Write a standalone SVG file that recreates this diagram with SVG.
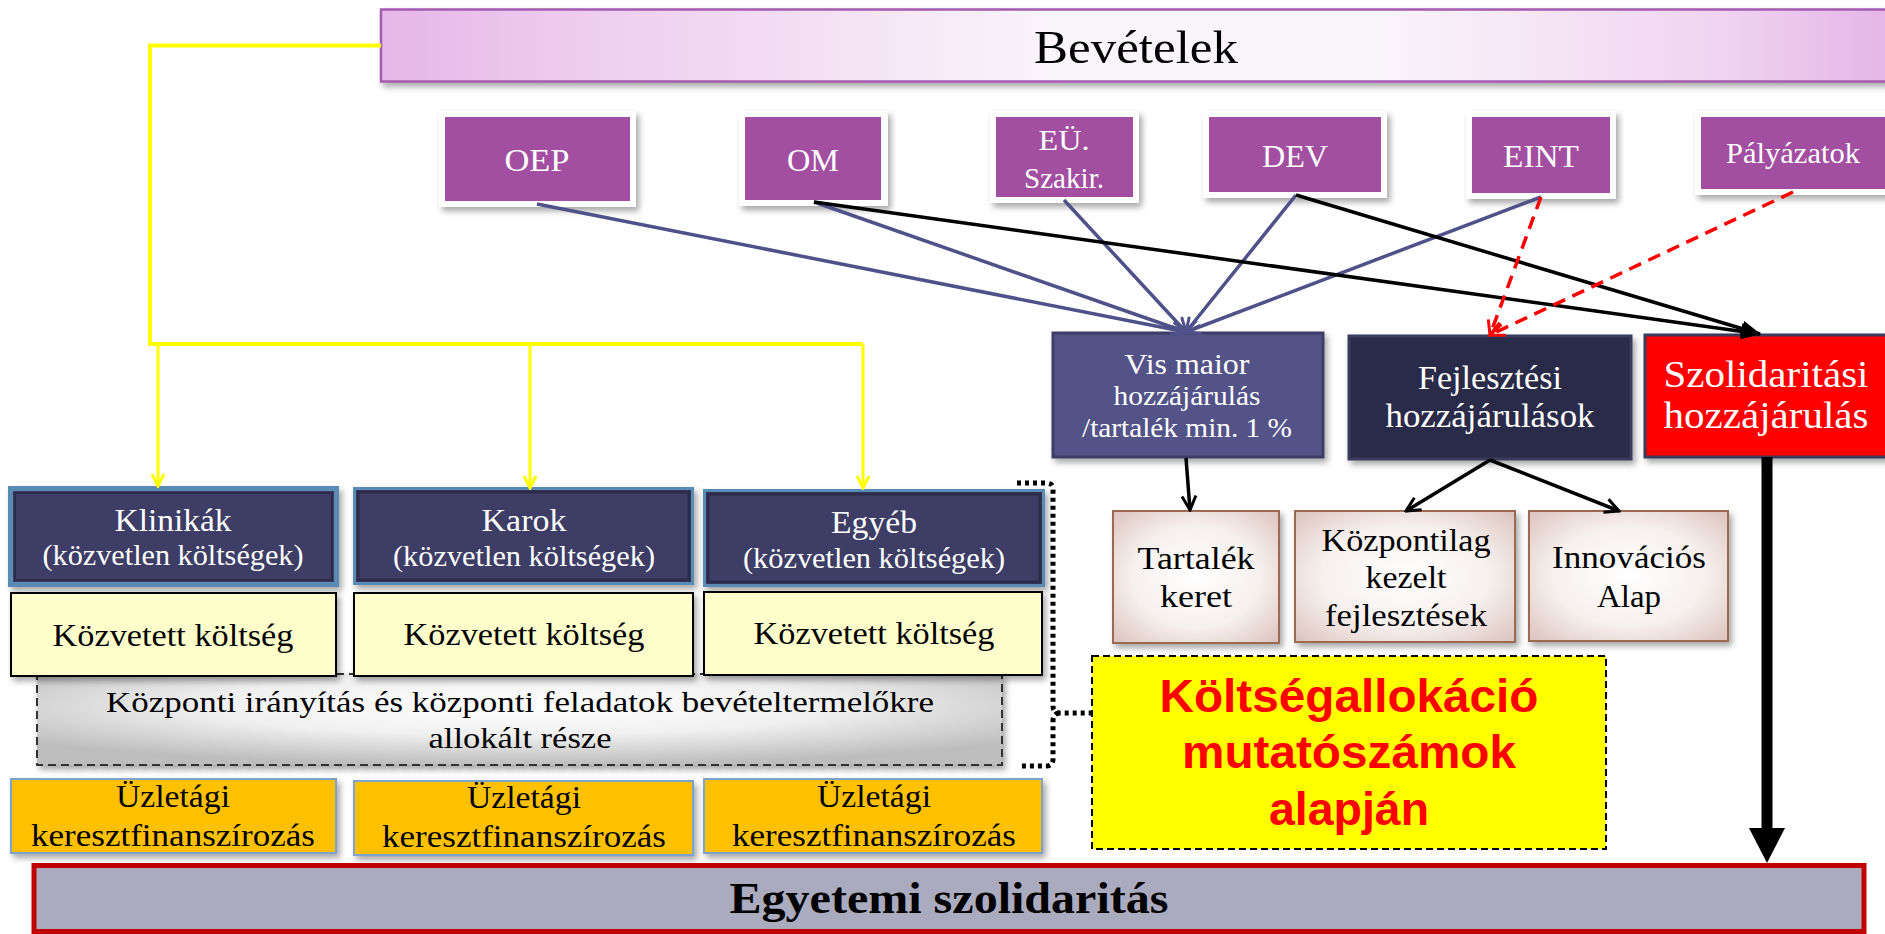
<svg xmlns="http://www.w3.org/2000/svg" width="1885" height="934" viewBox="0 0 1885 934">
<defs>
<style>
.t{font-family:"Liberation Serif","Times New Roman",serif;text-anchor:middle}
.w{fill:#ffffff}
.k{fill:#000000}
.src{fill:#A24FA1}
.frame{fill:#ffffff}
.dir{fill:#3E3D66}
.ind{fill:#FFFFCC;stroke:#000;stroke-width:2}
.biz{fill:#FFC000;stroke:#7BA3CF;stroke-width:2}
.tan{fill:url(#gTan);stroke:#9C6B52;stroke-width:2}
.blue{stroke:#4F5189;stroke-width:3.5;fill:none}
.blk{stroke:#000;stroke-width:3.5;fill:none}
.red{stroke:#FF0000;stroke-width:3.5;fill:none;stroke-dasharray:13 8}
.yel{stroke:#FFFF00;fill:none}
</style>
<filter id="sh" x="-10%" y="-20%" width="120%" height="150%">
<feDropShadow dx="3" dy="4" stdDeviation="3" flood-color="#000" flood-opacity="0.35"/>
</filter>
<linearGradient id="gBev" x1="0" y1="0" x2="1" y2="0">
<stop offset="0" stop-color="#E6B7E8"/>
<stop offset="0.12" stop-color="#EDCBEE"/>
<stop offset="0.45" stop-color="#FAF5FB"/>
<stop offset="0.65" stop-color="#FAF5FB"/>
<stop offset="0.88" stop-color="#F0D4F1"/>
<stop offset="1" stop-color="#E3B3E6"/>
</linearGradient>
<radialGradient id="gCen" cx="0.5" cy="0.35" r="0.65">
<stop offset="0" stop-color="#FFFFFF"/>
<stop offset="0.5" stop-color="#F0F0F0"/>
<stop offset="1" stop-color="#BDBDBD"/>
</radialGradient>
<radialGradient id="gTan" cx="0.5" cy="0.5" r="0.7">
<stop offset="0" stop-color="#FFFFFF"/>
<stop offset="0.55" stop-color="#F6F0EE"/>
<stop offset="1" stop-color="#DCC3BD"/>
</radialGradient>
<marker id="mBlue" viewBox="0 0 18 18" refX="16" refY="9" markerWidth="18" markerHeight="18" markerUnits="userSpaceOnUse" orient="auto">
<path d="M2,2 L16,9 L2,16" fill="none" stroke="#4F5189" stroke-width="3"/>
</marker>
<marker id="mBlack" viewBox="0 0 18 18" refX="16" refY="9" markerWidth="18" markerHeight="18" markerUnits="userSpaceOnUse" orient="auto">
<path d="M2,2 L16,9 L2,16" fill="none" stroke="#000" stroke-width="3"/>
</marker>
<marker id="mRed" viewBox="0 0 18 18" refX="16" refY="9" markerWidth="18" markerHeight="18" markerUnits="userSpaceOnUse" orient="auto">
<path d="M2,2 L16,9 L2,16" fill="none" stroke="#FF0000" stroke-width="3" stroke-dasharray="none"/>
</marker>
<marker id="mYel" viewBox="0 0 16 16" refX="14" refY="8" markerWidth="16" markerHeight="16" markerUnits="userSpaceOnUse" orient="auto">
<path d="M2,2 L14,8 L2,14" fill="none" stroke="#FFFF00" stroke-width="3"/>
</marker>
<marker id="mFill" viewBox="0 0 20 16" refX="19" refY="8" markerWidth="20" markerHeight="16" markerUnits="userSpaceOnUse" orient="auto">
<path d="M0,0 L20,8 L0,16 z" fill="#000"/>
</marker>
</defs>

<rect width="1885" height="934" fill="#ffffff"/>

<g id="separator">
<line x1="36" y1="473" x2="1872" y2="473" stroke="#C8642E" stroke-width="6" stroke-dasharray="26 20" filter="url(#sh)"/>
</g>

<g id="bevetelek">
<rect x="381" y="9.5" width="1520" height="72" fill="url(#gBev)" stroke="#A35BB0" stroke-width="2.5" filter="url(#sh)"/>
<text class="t k" x="1136" y="63" font-size="46" textLength="204" lengthAdjust="spacingAndGlyphs">Bevételek</text>
</g>

<g id="oep">
<rect class="frame" x="439" y="111" width="197" height="96" filter="url(#sh)"/>
<rect class="src" x="445" y="117" width="185" height="84"/>
<text class="t w" x="537" y="171" font-size="32" textLength="65" lengthAdjust="spacingAndGlyphs">OEP</text>
</g>
<g id="om">
<rect class="frame" x="739" y="111" width="149" height="95" filter="url(#sh)"/>
<rect class="src" x="745" y="117" width="136" height="83"/>
<text class="t w" x="813" y="171" font-size="32" textLength="52" lengthAdjust="spacingAndGlyphs">OM</text>
</g>
<g id="eu">
<rect class="frame" x="990" y="111" width="149" height="92" filter="url(#sh)"/>
<rect class="src" x="996" y="117" width="137" height="80"/>
<text class="t w" x="1064" y="150" font-size="29" textLength="51" lengthAdjust="spacingAndGlyphs">EÜ.</text>
<text class="t w" x="1064" y="188" font-size="29" textLength="80" lengthAdjust="spacingAndGlyphs">Szakir.</text>
</g>
<g id="dev">
<rect class="frame" x="1203" y="111" width="184" height="87" filter="url(#sh)"/>
<rect class="src" x="1209" y="117" width="172" height="75"/>
<text class="t w" x="1295" y="167" font-size="32" textLength="66" lengthAdjust="spacingAndGlyphs">DEV</text>
</g>
<g id="eint">
<rect class="frame" x="1466" y="111" width="150" height="88" filter="url(#sh)"/>
<rect class="src" x="1472" y="117" width="138" height="76"/>
<text class="t w" x="1541" y="167" font-size="32" textLength="76" lengthAdjust="spacingAndGlyphs">EINT</text>
</g>
<g id="palyazatok">
<rect class="frame" x="1695" y="111" width="200" height="84" filter="url(#sh)"/>
<rect class="src" x="1701" y="117" width="190" height="72"/>
<text class="t w" x="1793" y="163" font-size="29" textLength="134" lengthAdjust="spacingAndGlyphs">Pályázatok</text>
</g>

<g id="vismaior">
<rect x="1053" y="333" width="270" height="124" fill="#525288" stroke="#3E3E68" stroke-width="3" filter="url(#sh)"/>
<text class="t w" x="1187" y="374" font-size="30" textLength="125" lengthAdjust="spacingAndGlyphs">Vis maior</text>
<text class="t w" x="1187" y="405" font-size="28" textLength="147" lengthAdjust="spacingAndGlyphs">hozzájárulás</text>
<text class="t w" x="1187" y="437" font-size="28" textLength="210" lengthAdjust="spacingAndGlyphs">/tartalék min. 1 %</text>
</g>
<g id="fejlesztesi">
<rect x="1349" y="336" width="282" height="123" fill="#2B2A48" stroke="#3B3B5C" stroke-width="3" filter="url(#sh)"/>
<text class="t w" x="1490" y="389" font-size="33" textLength="144" lengthAdjust="spacingAndGlyphs">Fejlesztési</text>
<text class="t w" x="1490" y="427" font-size="33" textLength="209" lengthAdjust="spacingAndGlyphs">hozzájárulások</text>
</g>
<g id="szolidaritasi">
<rect x="1645" y="335" width="250" height="122" fill="#FF0000" stroke="#3B3B5C" stroke-width="3" filter="url(#sh)"/>
<text class="t w" x="1766" y="387" font-size="38" textLength="205" lengthAdjust="spacingAndGlyphs">Szolidaritási</text>
<text class="t w" x="1766" y="428" font-size="38" textLength="205" lengthAdjust="spacingAndGlyphs">hozzájárulás</text>
</g>

<g id="kozponti">
<rect x="37" y="674" width="965" height="91" fill="url(#gCen)" stroke="#333" stroke-width="2" stroke-dasharray="8 5" filter="url(#sh)"/>
<text class="t k" x="520" y="712" font-size="29" textLength="828" lengthAdjust="spacingAndGlyphs">Központi irányítás és központi feladatok bevételtermelőkre</text>
<text class="t k" x="520" y="748" font-size="29" textLength="183" lengthAdjust="spacingAndGlyphs">allokált része</text>
</g>

<g id="klinikak">
<rect x="10.5" y="488.5" width="326" height="96" class="dir" stroke="#5A8BB5" stroke-width="5" filter="url(#sh)"/>
<rect x="15" y="493" width="317" height="87" fill="none" stroke="#2C2B4A" stroke-width="2"/>
<text class="t w" x="173" y="531" font-size="31" textLength="117" lengthAdjust="spacingAndGlyphs">Klinikák</text>
<text class="t w" x="173" y="565" font-size="29" textLength="261" lengthAdjust="spacingAndGlyphs">(közvetlen költségek)</text>
</g>
<g id="karok">
<rect x="354.5" y="488.5" width="338" height="95" class="dir" stroke="#5A8BB5" stroke-width="3" filter="url(#sh)"/>
<rect x="358" y="492" width="331" height="88" fill="none" stroke="#2C2B4A" stroke-width="3"/>
<text class="t w" x="524" y="531" font-size="31" textLength="85" lengthAdjust="spacingAndGlyphs">Karok</text>
<text class="t w" x="524" y="566" font-size="29" textLength="262" lengthAdjust="spacingAndGlyphs">(közvetlen költségek)</text>
</g>
<g id="egyeb">
<rect x="704.5" y="490.5" width="339" height="95" class="dir" stroke="#5A8BB5" stroke-width="3" filter="url(#sh)"/>
<rect x="708" y="494" width="332" height="88" fill="none" stroke="#2C2B4A" stroke-width="3"/>
<text class="t w" x="874" y="533" font-size="31" textLength="86" lengthAdjust="spacingAndGlyphs">Egyéb</text>
<text class="t w" x="874" y="568" font-size="29" textLength="262" lengthAdjust="spacingAndGlyphs">(közvetlen költségek)</text>
</g>

<g id="kozvetett1">
<rect class="ind" x="11" y="593" width="325" height="83" filter="url(#sh)"/>
<text class="t k" x="173" y="646" font-size="31" textLength="241" lengthAdjust="spacingAndGlyphs">Közvetett költség</text>
</g>
<g id="kozvetett2">
<rect class="ind" x="354" y="593" width="339" height="83" filter="url(#sh)"/>
<text class="t k" x="524" y="645" font-size="31" textLength="241" lengthAdjust="spacingAndGlyphs">Közvetett költség</text>
</g>
<g id="kozvetett3">
<rect class="ind" x="704" y="592" width="338" height="83" filter="url(#sh)"/>
<text class="t k" x="874" y="644" font-size="31" textLength="241" lengthAdjust="spacingAndGlyphs">Közvetett költség</text>
</g>

<g id="uzletagi1">
<rect class="biz" x="11" y="779" width="325" height="74" filter="url(#sh)"/>
<text class="t k" x="173" y="807" font-size="31" textLength="114" lengthAdjust="spacingAndGlyphs">Üzletági</text>
<text class="t k" x="173" y="846" font-size="31" textLength="284" lengthAdjust="spacingAndGlyphs">keresztfinanszírozás</text>
</g>
<g id="uzletagi2">
<rect class="biz" x="354" y="781" width="339" height="74" filter="url(#sh)"/>
<text class="t k" x="524" y="808" font-size="31" textLength="114" lengthAdjust="spacingAndGlyphs">Üzletági</text>
<text class="t k" x="524" y="847" font-size="31" textLength="284" lengthAdjust="spacingAndGlyphs">keresztfinanszírozás</text>
</g>
<g id="uzletagi3">
<rect class="biz" x="704" y="779" width="338" height="74" filter="url(#sh)"/>
<text class="t k" x="874" y="807" font-size="31" textLength="114" lengthAdjust="spacingAndGlyphs">Üzletági</text>
<text class="t k" x="874" y="846" font-size="31" textLength="284" lengthAdjust="spacingAndGlyphs">keresztfinanszírozás</text>
</g>

<g id="tartalek">
<rect class="tan" x="1113" y="511" width="166" height="132" filter="url(#sh)"/>
<text class="t k" x="1196" y="569" font-size="31" textLength="117" lengthAdjust="spacingAndGlyphs">Tartalék</text>
<text class="t k" x="1196" y="607" font-size="31" textLength="72" lengthAdjust="spacingAndGlyphs">keret</text>
</g>
<g id="kozpontilag">
<rect class="tan" x="1295" y="511" width="220" height="131" filter="url(#sh)"/>
<text class="t k" x="1406" y="551" font-size="31" textLength="169" lengthAdjust="spacingAndGlyphs">Központilag</text>
<text class="t k" x="1406" y="588" font-size="31" textLength="81" lengthAdjust="spacingAndGlyphs">kezelt</text>
<text class="t k" x="1406" y="626" font-size="31" textLength="162" lengthAdjust="spacingAndGlyphs">fejlesztések</text>
</g>
<g id="innovacios">
<rect class="tan" x="1529" y="511" width="199" height="130" filter="url(#sh)"/>
<text class="t k" x="1629" y="568" font-size="31" textLength="154" lengthAdjust="spacingAndGlyphs">Innovációs</text>
<text class="t k" x="1629" y="607" font-size="31" textLength="64" lengthAdjust="spacingAndGlyphs">Alap</text>
</g>

<g id="koltsegallokacio">
<rect x="1092" y="656" width="514" height="193" fill="#FFFF00" stroke="#000" stroke-width="2" stroke-dasharray="7 4"/>
<text x="1349" y="712" font-family="'Liberation Sans',Arial,sans-serif" font-weight="bold" font-size="47" fill="#FF0000" text-anchor="middle" textLength="379" lengthAdjust="spacingAndGlyphs">Költségallokáció</text>
<text x="1349" y="768" font-family="'Liberation Sans',Arial,sans-serif" font-weight="bold" font-size="47" fill="#FF0000" text-anchor="middle" textLength="334" lengthAdjust="spacingAndGlyphs">mutatószámok</text>
<text x="1349" y="825" font-family="'Liberation Sans',Arial,sans-serif" font-weight="bold" font-size="47" fill="#FF0000" text-anchor="middle" textLength="160" lengthAdjust="spacingAndGlyphs">alapján</text>
</g>

<g id="egyetemi">
<rect x="34" y="865.5" width="1830" height="66" fill="#ABABBF" stroke="#C00000" stroke-width="5"/>
<text class="t k" x="949" y="913" font-size="44" font-weight="bold" textLength="439" lengthAdjust="spacingAndGlyphs">Egyetemi szolidaritás</text>
</g>

<g id="connectors">
<path class="yel" d="M381,45.5 H150 V344 H863" stroke-width="4"/>
<line class="yel" x1="158" y1="344" x2="158" y2="486" stroke-width="3" marker-end="url(#mYel)"/>
<line class="yel" x1="530" y1="344" x2="530" y2="488" stroke-width="3" marker-end="url(#mYel)"/>
<line class="yel" x1="863" y1="344" x2="863" y2="488" stroke-width="3" marker-end="url(#mYel)"/>

<line class="blue" x1="537" y1="204" x2="1186" y2="332" marker-end="url(#mBlue)"/>
<line class="blue" x1="814" y1="202" x2="1186" y2="332" marker-end="url(#mBlue)"/>
<line class="blue" x1="1064" y1="200" x2="1186" y2="332" marker-end="url(#mBlue)"/>
<line class="blue" x1="1296" y1="195" x2="1186" y2="332" marker-end="url(#mBlue)"/>
<line class="blue" x1="1541" y1="197" x2="1186" y2="332" marker-end="url(#mBlue)"/>

<line class="blk" x1="814" y1="202" x2="1760" y2="334" marker-end="url(#mFill)"/>
<line class="blk" x1="1296" y1="195" x2="1760" y2="334" marker-end="url(#mFill)"/>

<line class="red" x1="1541" y1="197" x2="1490" y2="335" marker-end="url(#mRed)"/>
<line class="red" x1="1793" y1="192" x2="1490" y2="335" marker-end="url(#mRed)"/>

<line class="blk" x1="1186" y1="458" x2="1190" y2="510" stroke-width="3" marker-end="url(#mBlack)"/>
<line class="blk" x1="1490" y1="460" x2="1406" y2="511" stroke-width="3" marker-end="url(#mBlack)"/>
<line class="blk" x1="1490" y1="460" x2="1619" y2="511" stroke-width="3" marker-end="url(#mBlack)"/>

<line x1="1767" y1="457" x2="1767" y2="832" stroke="#000" stroke-width="11"/>
<polygon points="1749,828 1785,828 1767,863" fill="#000"/>

<path d="M1017,483 H1047 Q1053,483 1053,490 V706 Q1053,712 1059,713 H1092 M1059,713 Q1053,714 1053,721 V759 Q1053,766 1046,766 H1020" fill="none" stroke="#000" stroke-width="5" stroke-dasharray="4 4"/>
</g>
</svg>
